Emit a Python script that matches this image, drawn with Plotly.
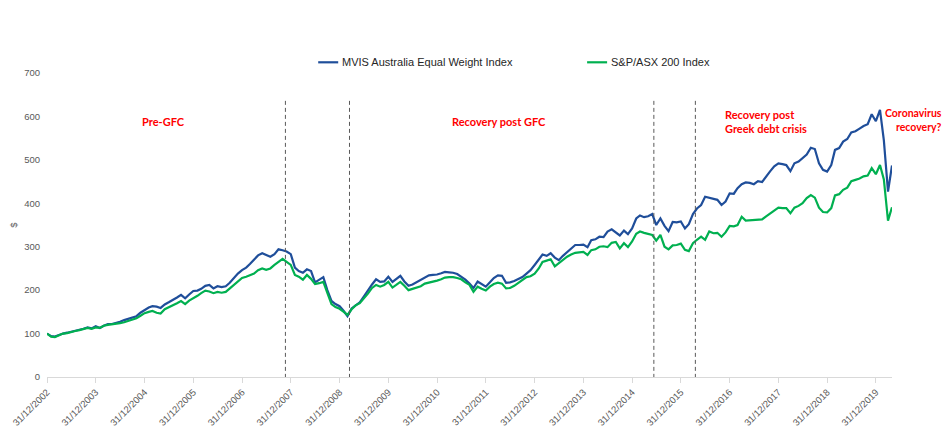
import pandas as pd
import plotly.graph_objects as go

# Month-end observations, 31/12/2002 .. 30/04/2020
try:
    months = pd.date_range("2002-12-31", periods=209, freq="ME")
except Exception:
    months = pd.date_range("2002-12-31", periods=209, freq="M")
dates = months.strftime("%Y-%m-%d").tolist()

mvis = [
    100, 94, 93, 97, 100, 102, 104, 106, 108, 111, 114, 112,
    117, 113, 118, 122, 122, 124, 127, 131, 134, 137, 140, 148,
    155, 160, 163, 162, 159, 167, 172, 177, 183, 189, 181, 190,
    198, 199, 203, 210, 212, 204, 209, 207, 209, 217, 228, 238,
    246, 252, 260, 270, 280, 285, 281, 277, 283, 294, 292, 289,
    283, 252, 244, 240, 248, 244, 218, 224, 230, 200, 175, 168,
    163, 152, 140, 158, 165, 172, 185, 200, 213, 225, 219, 220,
    231, 219, 226, 233, 220, 210, 213, 218, 223, 229, 234, 235,
    236, 239, 242, 241, 240, 237, 231, 224, 215, 205, 220, 214,
    208, 218, 228, 234, 233, 217, 218, 221, 226, 230, 238, 246,
    258, 270, 282, 279, 285, 275, 269, 279, 288, 296, 304, 304,
    305, 299, 315, 317, 323, 322, 335, 340, 333, 326, 337, 329,
    342, 365, 372, 368, 370, 375, 350, 365, 348, 336, 357, 356,
    358, 342, 352, 375, 388, 396, 415, 413, 411, 408, 396, 404,
    423, 422, 435, 444, 448, 447, 444, 451, 449, 462, 474, 485,
    492, 490, 488, 474, 492, 496, 503, 512, 528, 525, 492, 477,
    473, 488, 523, 527, 542, 548, 563, 566, 572, 578, 582, 605,
    589, 615, 545, 427, 487,
]

asx200 = [
    100, 93, 92, 96, 100, 101, 104, 106, 108, 110, 113, 111,
    114, 113, 118, 120, 121, 122, 124, 126, 129, 132, 135, 141,
    147, 150, 152, 148, 146, 156, 160, 165, 170, 175, 168, 176,
    181, 187, 193, 199, 197, 193, 196, 194, 196, 204, 212, 221,
    228, 231, 234, 238, 246, 250, 247, 250, 258, 266, 272, 265,
    258, 235, 231, 224, 235, 226, 214, 216, 219, 194, 168, 161,
    157, 150, 143, 156, 165, 170, 180, 192, 205, 212, 208, 212,
    219, 206, 212, 219, 210, 200, 203, 206, 209, 215, 217, 219,
    222, 225, 229, 230, 230, 228, 225, 218, 212, 196, 208, 203,
    199, 208, 214, 217, 215, 204, 205, 210, 217, 224, 230, 232,
    238, 250, 265, 268, 271, 255, 262, 270, 277, 282, 286, 287,
    288, 281, 292, 294, 300, 301, 299, 309, 311, 296, 308, 299,
    312, 330, 335, 332, 330, 327, 314, 327, 300, 294, 303, 304,
    307, 293, 290, 308, 316, 323, 316, 335, 331, 332, 323, 333,
    348, 347, 350, 369, 360, 361, 362, 362, 363, 370, 377, 385,
    390, 389, 389, 377, 390, 394, 400, 412, 419, 413, 390, 380,
    379, 389, 418, 421, 431, 436, 451, 454, 457, 462, 464, 481,
    467, 488, 455, 360, 391,
]

series_names = ["MVIS Australia Equal Weight Index", "S&P/ASX 200 Index"]
series_colors = ["#1F4E9A", "#00B050"]

tick_years = list(range(2002, 2020))
tick_vals = [f"{y}-12-31" for y in tick_years]
tick_text = [f"31/12/{y}" for y in tick_years]

event_dates = ["2007-11-21", "2009-03-15", "2015-06-12", "2016-04-18"]

period_labels = [
    ("2005-05-20", "Pre-GFC"),
    ("2012-04-10", "Recovery post GFC"),
]

FONT = "Liberation Sans, Arial, sans-serif"
RED_FONT = "Lato, Roboto, sans-serif"

fig = go.Figure()
for name, vals, col in zip(series_names, [mvis, asx200], series_colors):
    fig.add_trace(go.Scatter(x=dates, y=vals, name=name, mode="lines",
                             line=dict(color=col, width=2.2), showlegend=False))

shapes = []
for d in event_dates:
    shapes.append(dict(type="line", xref="x", yref="y", x0=d, x1=d, y0=-2, y1=638,
                       line=dict(color="#595959", width=1, dash="4px,3px")))

# plot-area relative placement helpers (reference pixel positions)
W = 845.3
def px(xp):
    return (xp - 46.7) / W
def py(yp):
    return (376.7 - yp) / 304.0

# manual legend (short line samples like the original)
leg = [(318, 338, 340), (587, 607, 609)]
annotations = []
for (a, b, t), name, col in zip(leg, series_names, series_colors):
    shapes.append(dict(type="line", xref="paper", yref="paper", x0=px(a), x1=px(b),
                       y0=py(62), y1=py(62), line=dict(color=col, width=2.2)))
    annotations.append(dict(xref="paper", yref="paper", x=px(t), y=py(62), text=name,
                            showarrow=False, xanchor="left", yanchor="middle",
                            font=dict(family=FONT, size=11, color="#262626")))

for xd, txt in period_labels:
    annotations.append(dict(xref="x", yref="paper", x=xd, y=py(121), text=f"<b>{txt}</b>",
                            showarrow=False, xanchor="center", yanchor="middle",
                            font=dict(family=RED_FONT, size=11, color="#FF0000")))
annotations.append(dict(xref="paper", yref="paper", x=px(723), y=py(121),
                        text="<b>Recovery post<br>Greek debt crisis</b>", align="left",
                        showarrow=False, xanchor="left", yanchor="middle",
                        font=dict(family=RED_FONT, size=11, color="#FF0000")))
annotations.append(dict(xref="paper", yref="paper", x=px(944), y=py(120),
                        text="<b>Coronavirus<br>recovery?</b>", align="right",
                        showarrow=False, xanchor="right", yanchor="middle",
                        font=dict(family=RED_FONT, size=10.5, color="#FF0000")))

fig.update_layout(
    width=950, height=435,
    margin=dict(l=39, r=66, t=65, b=66, autoexpand=False),
    paper_bgcolor="white", plot_bgcolor="white",
    font=dict(family=FONT, size=9.5, color="#595959"),
    shapes=shapes, annotations=annotations,
    showlegend=False,
)
fig.update_xaxes(type="date", range=["2002-12-31", "2020-04-30"],
                 tickmode="array", tickvals=tick_vals, ticktext=tick_text,
                 tickangle=-45, tickfont=dict(size=9.5, color="#595959"),
                 showgrid=False, showline=True, linecolor="#D9D9D9", linewidth=1,
                 ticks="outside", ticklen=5, tickcolor="#D9D9D9", zeroline=False)
fig.update_yaxes(range=[0, 700], dtick=100, showgrid=False, showline=False,
                 zeroline=False, ticks="", tickfont=dict(size=9.5, color="#595959"),
                 ticklabelstandoff=6,
                 title=dict(text="$", font=dict(size=9.5, color="#595959"), standoff=14))

fig.write_html("out.html")
